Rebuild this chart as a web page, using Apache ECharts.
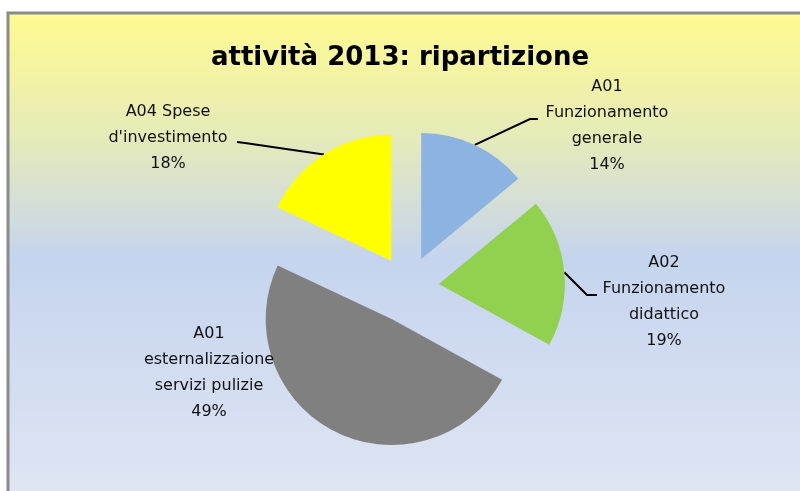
<!DOCTYPE html>
<html><head><meta charset="utf-8">
<script src="https://cdn.jsdelivr.net/npm/echarts@6/dist/echarts.min.js"></script>
<style>html,body{margin:0;padding:0;background:#fff}#c{width:800px;height:491px}</style>
</head><body><div id="c"></div>
<script>
const titleText = 'attività 2013: ripartizione';
const categories = ['A01 Funzionamento generale', 'A02 Funzionamento didattico', 'A01 esternalizzaione servizi pulizie', "A04 Spese d'investimento"];
const labelTexts = ['A01\nFunzionamento\ngenerale', 'A02\nFunzionamento\ndidattico', 'A01\nesternalizzaione\nservizi pulizie', "A04 Spese\nd'investimento"];
const values = [14, 19, 49, 18];
const colors = ['#8DB3E2', '#92D050', '#808080', '#FFFF00'];

// geometry / label placement (layout only)
const CENTER = [408, 287];
const RADIUS = 126;
const explode = [31, 31, 36, 31];
const labelPos = [
  {x: 607, y: 126, line: [[530, 119], [538, 119]]},
  {x: 664, y: 302, line: [[587, 295], [597, 295]]},
  {x: 209, y: 373, line: null},
  {x: 168, y: 138, line: [[245, 143], [237, 142]]}
];

const chart = echarts.init(document.getElementById('c'), null, {renderer: 'canvas'});

// one slice-drawing series per distinct explode distance
const offsets = Array.from(new Set(explode));
const sliceSeries = offsets.map(off => ({
  type: 'pie',
  center: CENTER,
  radius: RADIUS,
  startAngle: 90,
  clockwise: true,
  selectedMode: 'multiple',
  selectedOffset: off,
  silent: true,
  emphasis: {disabled: true},
  label: {show: false},
  labelLine: {show: false},
  data: categories.map((name, i) => ({
    name: name, value: values[i], selected: true,
    itemStyle: {color: explode[i] === off ? colors[i] : 'rgba(0,0,0,0)'}
  }))
}));

const labelSeries = {
  type: 'pie',
  center: CENTER,
  radius: RADIUS,
  startAngle: 90,
  clockwise: true,
  silent: true,
  selectedMode: false,
  emphasis: {disabled: true},
  itemStyle: {color: 'rgba(0,0,0,0)'},
  data: categories.map((name, i) => ({
    name: name, value: values[i],
    labelLine: {show: !!labelPos[i].line}
  })),
  label: {
    show: true,
    position: 'outside',
    formatter: p => labelTexts[p.dataIndex] + '\n' + p.percent + '%',
    fontFamily: 'DejaVu Sans', fontSize: 16, lineHeight: 26, color: '#111',
    align: 'center'
  },
  labelLine: {show: true, lineStyle: {color: '#000', width: 2}},
  labelLayout: function (params) {
    const lp = labelPos[params.dataIndex];
    const res = {x: lp.x, y: lp.y, align: 'center', verticalAlign: 'middle'};
    if (lp.line && params.labelLinePoints) {
      // arc point at mid-angle, pushed out by the explode offset
      const p0 = params.labelLinePoints[0];
      const dx = p0[0] - CENTER[0], dy = p0[1] - CENTER[1];
      const len = Math.sqrt(dx * dx + dy * dy) || 1;
      const k = (len + explode[params.dataIndex]) / len;
      res.labelLinePoints = [[CENTER[0] + dx * k, CENTER[1] + dy * k]].concat(lp.line);
    }
    return res;
  }
};

chart.setOption({
  animation: false,
  backgroundColor: '#ffffff',
  graphic: [{
    type: 'rect', z: -10, silent: true,
    shape: {x: 8, y: 13, width: 800, height: 490},
    style: {
      fill: {type: 'linear', x: 0, y: 0, x2: 0, y2: 1, colorStops: [
        {offset: 0, color: '#FFFB8F'},
        {offset: 0.25, color: '#E6EBB8'},
        {offset: 0.5, color: '#C5D4EE'},
        {offset: 1, color: '#E0E6F3'}
      ]},
      stroke: '#8a8a8a', lineWidth: 3
    }
  }],
  title: {
    text: titleText, left: 'center', top: 40,
    textStyle: {fontFamily: 'DejaVu Sans', fontWeight: 'bold', fontSize: 26, color: '#000'}
  },
  series: sliceSeries.concat([labelSeries])
});
</script></body></html>
